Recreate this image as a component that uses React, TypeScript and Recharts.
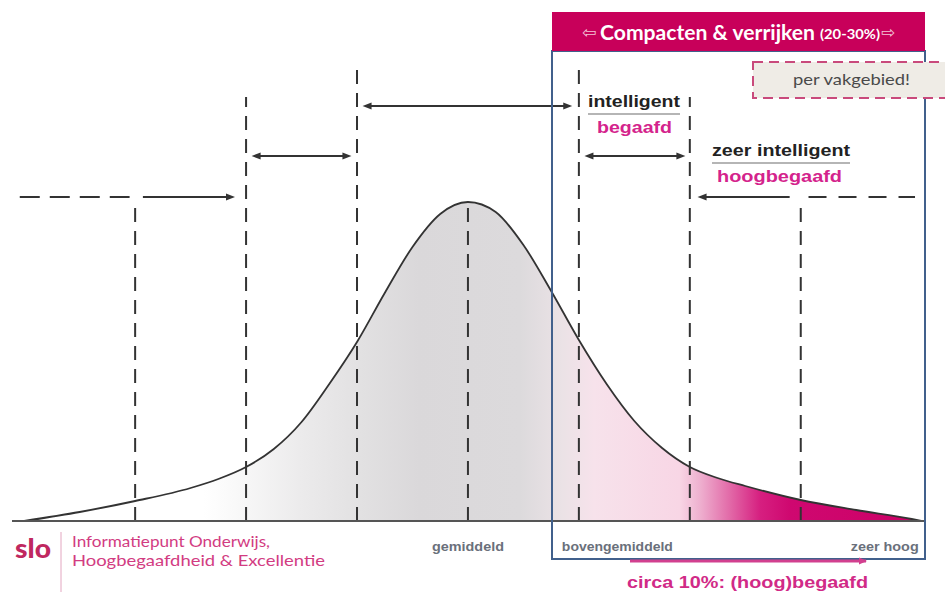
import { AreaChart, Area, XAxis, YAxis, ReferenceLine } from "recharts";

// bell curve: x in standard deviations, height in px-units above baseline
const zScores = [-4, -3.5, -3, -2.5, -2.25, -2, -1.75, -1.5, -1.25, -1, -0.75, -0.5, -0.25, 0, 0.25, 0.5, 0.75, 1, 1.25, 1.5, 1.75, 2, 2.25, 2.5, 3, 3.5, 4, 4.09];
const frequency = [0, 9, 20, 33, 42, 54, 72, 99, 137, 179, 228, 274, 307, 319, 309, 276, 230, 181, 137, 100, 73, 54, 43, 35, 21, 11, 2, 0];

const tickValues = [0, 1, 4];
const tickLabels = ["gemiddeld", "bovengemiddeld", "zeer hoog"];

// dashed boundaries at every standard deviation, and how high each one reaches
const boundaries = [-3, -2, -1, 0, 1, 2, 3];
const boundaryTops = [313, 424, 451, 316, 451, 424, 314];

const data = zScores.map((z, i) => ({ z, f: frequency[i] }));

const INK = "#333333";
const MAGENTA = "#d4238c";

type Head = "none" | "start" | "end" | "both";

function arrowShape(head: Head, dash?: string) {
  return (p: any) => {
    const { x1, y1, x2, y2 } = p;
    const dir = x2 >= x1 ? 1 : -1;
    const hl = 9;
    const startHead = head === "start" || head === "both";
    const endHead = head === "end" || head === "both";
    const lx1 = startHead ? x1 + dir * (hl - 1) : x1;
    const lx2 = endHead ? x2 - dir * (hl - 1) : x2;
    const tri = (tip: number, d: number) => (
      <polygon
        points={`${tip},${y1} ${tip - d * hl},${y1 - 3.5} ${tip - d * hl},${y1 + 3.5}`}
        fill={INK}
      />
    );
    return (
      <g>
        <line x1={lx1} y1={y1} x2={lx2} y2={y2} stroke={INK} strokeWidth={2} strokeDasharray={dash} />
        {startHead && tri(x1, -dir)}
        {endHead && tri(x2, dir)}
      </g>
    );
  };
}

function BottomTick({ x, y, payload }: any) {
  const i = tickValues.indexOf(payload.value);
  const anchor = i === 0 ? "middle" : i === 1 ? "start" : "end";
  const dx = i === 1 ? -17 : i === 2 ? 7 : 0;
  const widths = [72, 111, 68];
  return (
    <text
      x={x + dx}
      y={y}
      dy={22}
      textAnchor={anchor}
      fontFamily="'Liberation Sans', Arial, sans-serif"
      fontWeight={700}
      fontSize={13}
      fill="#6a707b"
      textLength={widths[i]}
      lengthAdjust="spacingAndGlyphs"
    >
      {tickLabels[i]}
    </text>
  );
}

function Overlay() {
  const arial = "'Liberation Sans', Arial, sans-serif";
  return (
    <svg width={945} height={592} style={{ position: "absolute", left: 0, top: 0, pointerEvents: "none" }}>
      <defs>
        <marker id="pinkHead" markerWidth="8" markerHeight="8" refX="7" refY="4" orient="auto" markerUnits="userSpaceOnUse">
          <polygon points="0,0.5 8,4 0,7.5" fill="#d2408f" />
        </marker>
      </defs>

      {/* compacten & verrijken frame */}
      <rect x={552} y={51} width={373} height={508} fill="none" stroke="#41608c" strokeWidth={2} />
      <rect x={552} y={12} width={373} height={39} fill="#c8005a" />
      <text x={582} y={38} fontFamily="'DejaVu Sans', sans-serif" fontSize={17} fill="#f3c3d6">⇦</text>
      <text x={600} y={40} fontFamily="Lato, 'Open Sans', sans-serif" fontWeight={700} fontSize={21} fill="#ffffff" textLength={215} lengthAdjust="spacingAndGlyphs">
        Compacten &amp; verrijken
      </text>
      <text x={820} y={39} fontFamily="Lato, 'Open Sans', sans-serif" fontWeight={700} fontSize={14} fill="#ffffff" textLength={60} lengthAdjust="spacingAndGlyphs">
        (20-30%)
      </text>
      <text x={881} y={38} fontFamily="'DejaVu Sans', sans-serif" fontSize={17} fill="#f3c3d6">⇨</text>

      {/* per vakgebied */}
      <rect x={753} y={62} width={200} height={36} fill="#efece6" stroke="#c94a7c" strokeWidth={2} strokeDasharray="10 6" />
      <text x={793} y={85} fontFamily="Lato, 'Open Sans', sans-serif" fontSize={16} fill="#4a4a4a" textLength={117} lengthAdjust="spacingAndGlyphs">
        per vakgebied!
      </text>

      {/* group labels */}
      <text x={588} y={107} fontFamily={arial} fontWeight={700} fontSize={16} fill="#222" textLength={92} lengthAdjust="spacingAndGlyphs">intelligent</text>
      <line x1={588} y1={114} x2={680} y2={114} stroke="#b5b5b5" strokeWidth={2} />
      <text x={597} y={133} fontFamily={arial} fontWeight={700} fontSize={16} fill={MAGENTA} textLength={75} lengthAdjust="spacingAndGlyphs">begaafd</text>
      <text x={712} y={156} fontFamily={arial} fontWeight={700} fontSize={16} fill="#222" textLength={138} lengthAdjust="spacingAndGlyphs">zeer intelligent</text>
      <line x1={712} y1={163} x2={850} y2={163} stroke="#b5b5b5" strokeWidth={2} />
      <text x={717} y={182} fontFamily={arial} fontWeight={700} fontSize={16} fill={MAGENTA} textLength={125} lengthAdjust="spacingAndGlyphs">hoogbegaafd</text>

      {/* circa 10% */}
      <line x1={630} y1={561} x2={866} y2={561} stroke="#d2408f" strokeWidth={3} markerEnd="url(#pinkHead)" />
      <text x={627} y={588} fontFamily={arial} fontWeight={700} fontSize={17} fill="#d12a87" textLength={241} lengthAdjust="spacingAndGlyphs">
        circa 10%: (hoog)begaafd
      </text>

      {/* slo logo */}
      <text x={15} y={558} fontFamily="Lato, 'Open Sans', sans-serif" fontWeight={900} fontSize={27} fill="#c0285f" textLength={36} lengthAdjust="spacingAndGlyphs">slo</text>
      <line x1={61} y1={532} x2={61} y2={592} stroke="#e3a6c0" strokeWidth={1} />
      <text x={72} y={547} fontFamily="Lato, 'Open Sans', sans-serif" fontSize={15} fill="#d23c82" textLength={198} lengthAdjust="spacingAndGlyphs">
        Informatiepunt Onderwijs,
      </text>
      <text x={72} y={566} fontFamily="Lato, 'Open Sans', sans-serif" fontSize={15} fill="#d23c82" textLength={253} lengthAdjust="spacingAndGlyphs">
        Hoogbegaafdheid &amp; Excellentie
      </text>
    </svg>
  );
}

export default function App() {
  return (
    <div style={{ position: "absolute", left: 0, top: 0, width: 945, height: 592, background: "#fff" }}>
      <AreaChart width={945} height={592} data={data} margin={{ top: 66, right: 20, left: 12, bottom: 31 }}>
        <defs>
          <linearGradient id="bellFill" x1="0" y1="0" x2="1" y2="0">
            <stop offset="0" stopColor="#ffffff" />
            <stop offset="0.2" stopColor="#ffffff" />
            <stop offset="0.24" stopColor="#f8f8f8" />
            <stop offset="0.307" stopColor="#ecebec" />
            <stop offset="0.374" stopColor="#e2e1e2" />
            <stop offset="0.44" stopColor="#dad8da" />
            <stop offset="0.552" stopColor="#dcdadc" />
            <stop offset="0.6" stopColor="#ebe2e6" />
            <stop offset="0.635" stopColor="#f7e2eb" />
            <stop offset="0.73" stopColor="#f8d6e5" />
            <stop offset="0.753" stopColor="#eeb0cf" />
            <stop offset="0.786" stopColor="#e26aa8" />
            <stop offset="0.82" stopColor="#d61f80" />
            <stop offset="0.853" stopColor="#cf0870" />
            <stop offset="1" stopColor="#cc0066" />
          </linearGradient>
        </defs>
        <XAxis
          dataKey="z"
          type="number"
          domain={[-4.11, 4.12]}
          allowDataOverflow
          ticks={tickValues}
          tick={<BottomTick />}
          tickLine={false}
          axisLine={{ stroke: "#555", strokeWidth: 2 }}
          height={40}
          interval={0}
        />
        <YAxis
          domain={[0, 455]}
          allowDataOverflow
          width={0}
          tick={false}
          tickLine={false}
          axisLine={{ stroke: "#555", strokeWidth: 2 }}
        />
        <Area
          type="monotone"
          dataKey="f"
          stroke={INK}
          strokeWidth={1.8}
          fill="url(#bellFill)"
          fillOpacity={1}
          isAnimationActive={false}
        />
        {boundaries.map((b, i) => (
          <ReferenceLine
            key={b}
            segment={[{ x: b, y: 0 }, { x: b, y: boundaryTops[i] }]}
            stroke={INK}
            strokeWidth={2}
            strokeDasharray="14 9"
          />
        ))}
        <ReferenceLine segment={[{ x: -4.04, y: 324 }, { x: -3.05, y: 324 }]} shape={arrowShape("none", "20 10")} />
        <ReferenceLine segment={[{ x: -2.93, y: 324 }, { x: -2.1, y: 324 }]} shape={arrowShape("end")} />
        <ReferenceLine segment={[{ x: -1.95, y: 365 }, { x: -1.05, y: 365 }]} shape={arrowShape("both")} />
        <ReferenceLine segment={[{ x: -0.95, y: 415 }, { x: 0.94, y: 415 }]} shape={arrowShape("both")} />
        <ReferenceLine segment={[{ x: 1.05, y: 365 }, { x: 1.96, y: 365 }]} shape={arrowShape("both")} />
        <ReferenceLine segment={[{ x: 2.9, y: 324 }, { x: 2.07, y: 324 }]} shape={arrowShape("end")} />
        <ReferenceLine segment={[{ x: 3.07, y: 324 }, { x: 4.03, y: 324 }]} shape={arrowShape("none", "18 12")} />
      </AreaChart>
      <Overlay />
    </div>
  );
}
